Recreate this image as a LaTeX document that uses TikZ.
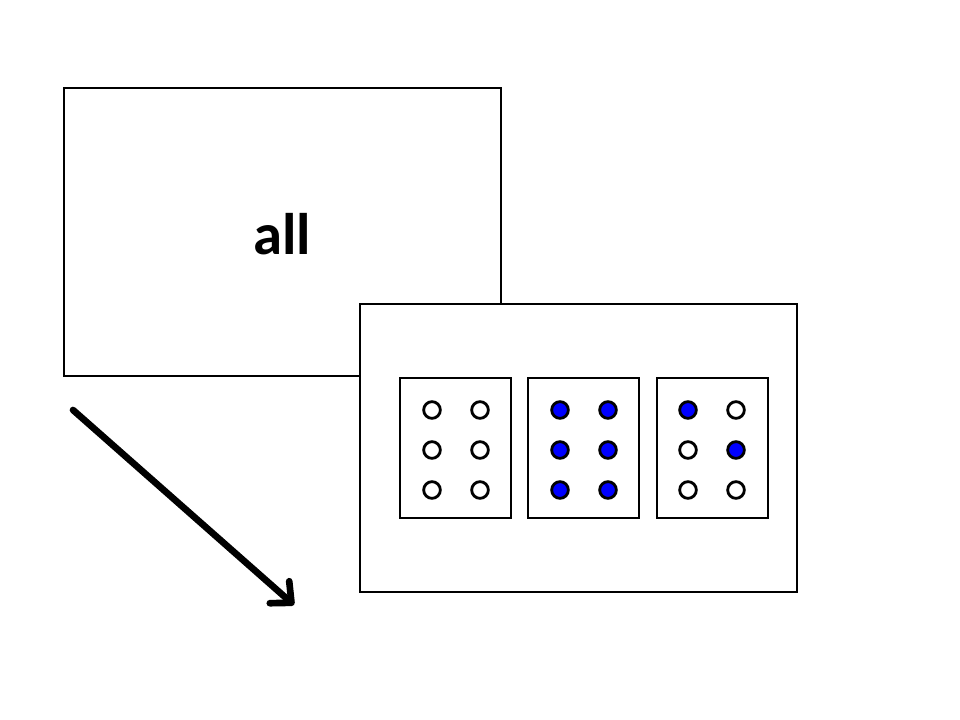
\documentclass[tikz,border=0pt]{standalone}
\usepackage{fontspec}
\setmainfont{Carlito}
\usetikzlibrary{arrows.meta}
\begin{document}
\begin{tikzpicture}[x=0.75pt,y=-0.75pt,
  frame/.style={draw=black,line width=2.1pt,fill=white},
  cell/.style={draw=black,line width=2.1pt,fill=white},
  dotoff/.style={circle,draw=black,line width=2.1pt,fill=white,minimum size=12.5pt,inner sep=0pt},
  doton/.style={circle,draw=black,line width=2.1pt,fill=blue,minimum size=12.5pt,inner sep=0pt},
  pointer/.style={line width=5pt,line cap=round,-{Straight Barb[length=12pt,width=22pt,line cap=round,line join=round]}}]
\useasboundingbox (0,0) rectangle (960,720);
\fill[white] (0,0) rectangle (960,720);
\draw[frame] (64,88) rectangle (501,376);
\node[font=\bfseries\fontsize{44}{50}\selectfont] (label) at (282,234) {all};
\draw[frame] (360,304) rectangle (797,592);
\draw[cell] (400,378) rectangle (511,518);
\draw[cell] (528,378) rectangle (639,518);
\draw[cell] (657,378) rectangle (768,518);
% cell 1
\node[dotoff] (a1) at (432,410) {};
\node[dotoff] (a2) at (480,410) {};
\node[dotoff] (a3) at (432,450) {};
\node[dotoff] (a4) at (480,450) {};
\node[dotoff] (a5) at (432,490) {};
\node[dotoff] (a6) at (480,490) {};
% cell 2
\node[doton] (b1) at (560,410) {};
\node[doton] (b2) at (608,410) {};
\node[doton] (b3) at (560,450) {};
\node[doton] (b4) at (608,450) {};
\node[doton] (b5) at (560,490) {};
\node[doton] (b6) at (608,490) {};
% cell 3
\node[doton] (c1) at (688,410) {};
\node[dotoff] (c2) at (736,410) {};
\node[dotoff] (c3) at (688,450) {};
\node[doton] (c4) at (736,450) {};
\node[dotoff] (c5) at (688,490) {};
\node[dotoff] (c6) at (736,490) {};
\coordinate (s) at (73,410);
\coordinate (e) at (294,605);
\draw[pointer] (s) -- (e);
\end{tikzpicture}
\end{document}
